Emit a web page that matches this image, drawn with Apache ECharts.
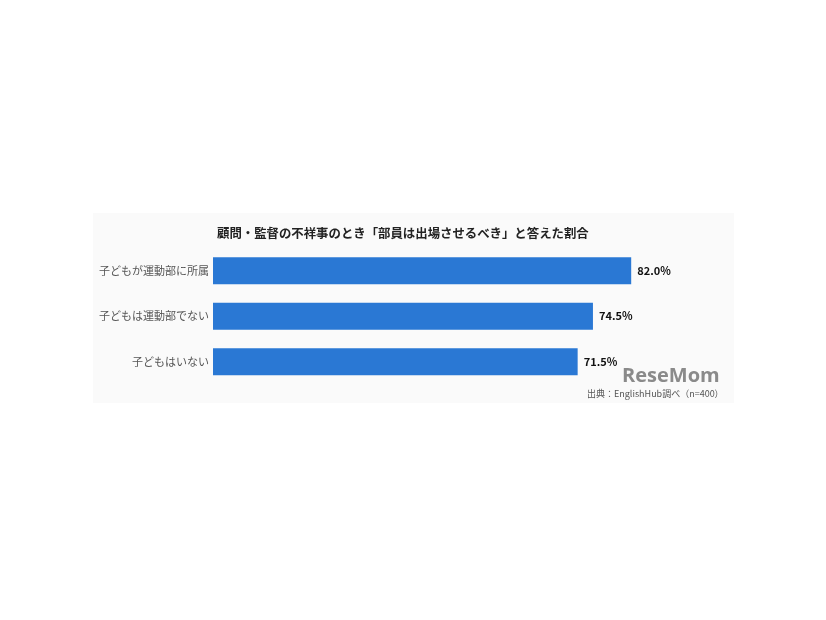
<!DOCTYPE html>
<html><head><meta charset="utf-8">
<script src="https://cdn.jsdelivr.net/npm/echarts@6/dist/echarts.min.js"></script>
<style>html,body{margin:0;padding:0;background:#fff}#c{width:826px;height:620px}</style>
</head><body><div id="c"></div>
<script>
const categories = ['子どもが運動部に所属', '子どもは運動部でない', '子どもはいない'];
const values = [82.0, 74.5, 71.5];
const titleText = '顧問・監督の不祥事のとき「部員は出場させるべき」と答えた割合';
const sourceText = '出典：EnglishHub調べ（n=400）';

const font = '"Noto Sans CJK JP", "Noto Sans", sans-serif';
const chart = echarts.init(document.getElementById('c'));
chart.setOption({
  animation: false,
  backgroundColor: '#ffffff',
  graphic: [
    { type: 'rect', z: -10, shape: { x: 93, y: 213, width: 641, height: 190 }, style: { fill: '#fafafa' } },
    { type: 'text', left: 622, top: 366, style: { text: 'ReseMom', font: 'bold 20px "Open Sans", sans-serif', fill: '#8a8a8a' } },
    { type: 'text', left: 587, top: 389, style: { text: sourceText, font: '9px ' + font, fill: '#555' } }
  ],
  title: {
    text: titleText, left: 212, top: 222,
    textStyle: { fontFamily: font, fontSize: 12.4, fontWeight: 'bold', color: '#222' }
  },
  grid: { left: 213, top: 248, width: 510, height: 136.5 },
  xAxis: { type: 'value', min: 0, max: 100, show: false },
  yAxis: {
    type: 'category', data: categories, inverse: true,
    axisLine: { show: false }, axisTick: { show: false },
    axisLabel: { fontFamily: font, fontSize: 11, color: '#555', margin: 4 }
  },
  series: [{
    type: 'bar', data: values, barWidth: 27,
    itemStyle: { color: '#2a78d4' },
    label: {
      show: true, position: 'right', distance: 6,
      formatter: p => p.value.toFixed(1) + '%',
      fontFamily: font, fontSize: 11, fontWeight: 'bold', color: '#111'
    }
  }]
});
</script></body></html>
